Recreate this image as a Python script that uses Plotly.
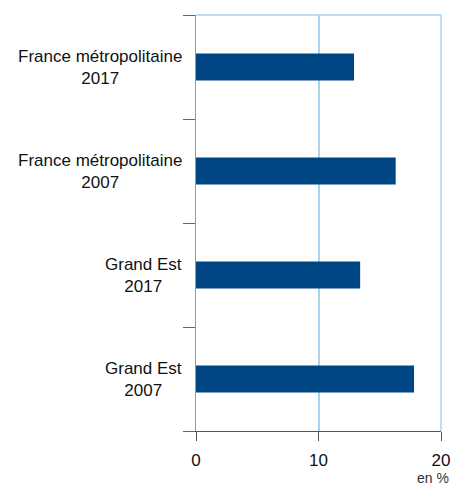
import plotly.graph_objects as go

categories = ["Grand Est<br>2007", "Grand Est<br>2017",
              "France métropolitaine<br>2007", "France métropolitaine<br>2017"]
values = [17.8, 13.4, 16.3, 12.9]
x_ticks = [0, 10, 20]
unit_label = "en %"

font_family = "Liberation Sans, Arial, Helvetica, sans-serif"
grid_blue = "#a9d3ef"

fig = go.Figure()
fig.add_trace(go.Bar(
    y=categories, x=values, orientation="h",
    marker=dict(color="#004685", line=dict(width=0)),
    width=0.26, hoverinfo="skip",
))

for c in categories:
    fig.add_annotation(
        x=0, xref="paper", y=c, yref="y", text=c,
        xanchor="right", yanchor="middle", align="center",
        xshift=-12, showarrow=False,
        font=dict(family=font_family, size=17, color="#111111"),
    )

fig.add_annotation(
    x=1, xref="paper", y=0, yref="paper", text=unit_label,
    xanchor="right", yanchor="top", xshift=10, yshift=-37,
    showarrow=False, font=dict(family=font_family, size=14, color="#333333"),
)

# top and right borders of plot area
fig.add_shape(type="line", xref="paper", yref="paper", x0=0, x1=1, y0=1, y1=1,
              line=dict(color=grid_blue, width=1.5))
fig.add_shape(type="line", xref="paper", yref="paper", x0=1, x1=1, y0=0, y1=1,
              line=dict(color=grid_blue, width=1.5))

fig.update_layout(
    width=451, height=484,
    margin=dict(l=196, r=10, t=15, b=53, autoexpand=False),
    paper_bgcolor="white", plot_bgcolor="white",
    showlegend=False,
    font=dict(family=font_family, size=16, color="#111111"),
    xaxis=dict(
        range=[0, 20], tickvals=x_ticks, ticks="outside", ticklen=9,
        tickcolor="#555555", tickwidth=1, automargin=False,
        ticklabelstandoff=5,
        showline=True, linecolor="#555555", linewidth=1,
        showgrid=True, gridcolor=grid_blue, gridwidth=1.5,
        zeroline=False, fixedrange=True,
        tickfont=dict(family=font_family, size=17, color="#111111"),
    ),
    yaxis=dict(
        categoryorder="array", categoryarray=categories,
        showticklabels=False, ticks="outside", ticklen=12, automargin=False,
        tickson="boundaries", tickcolor="#666666", tickwidth=1,
        showline=True, linecolor="#999999", linewidth=1,
        showgrid=False, zeroline=False, fixedrange=True,
    ),
)

fig.write_html(
    "out.html",
    config={"displayModeBar": False},
    post_script="document.body.style.margin='0';document.body.style.overflow='hidden';",
)
